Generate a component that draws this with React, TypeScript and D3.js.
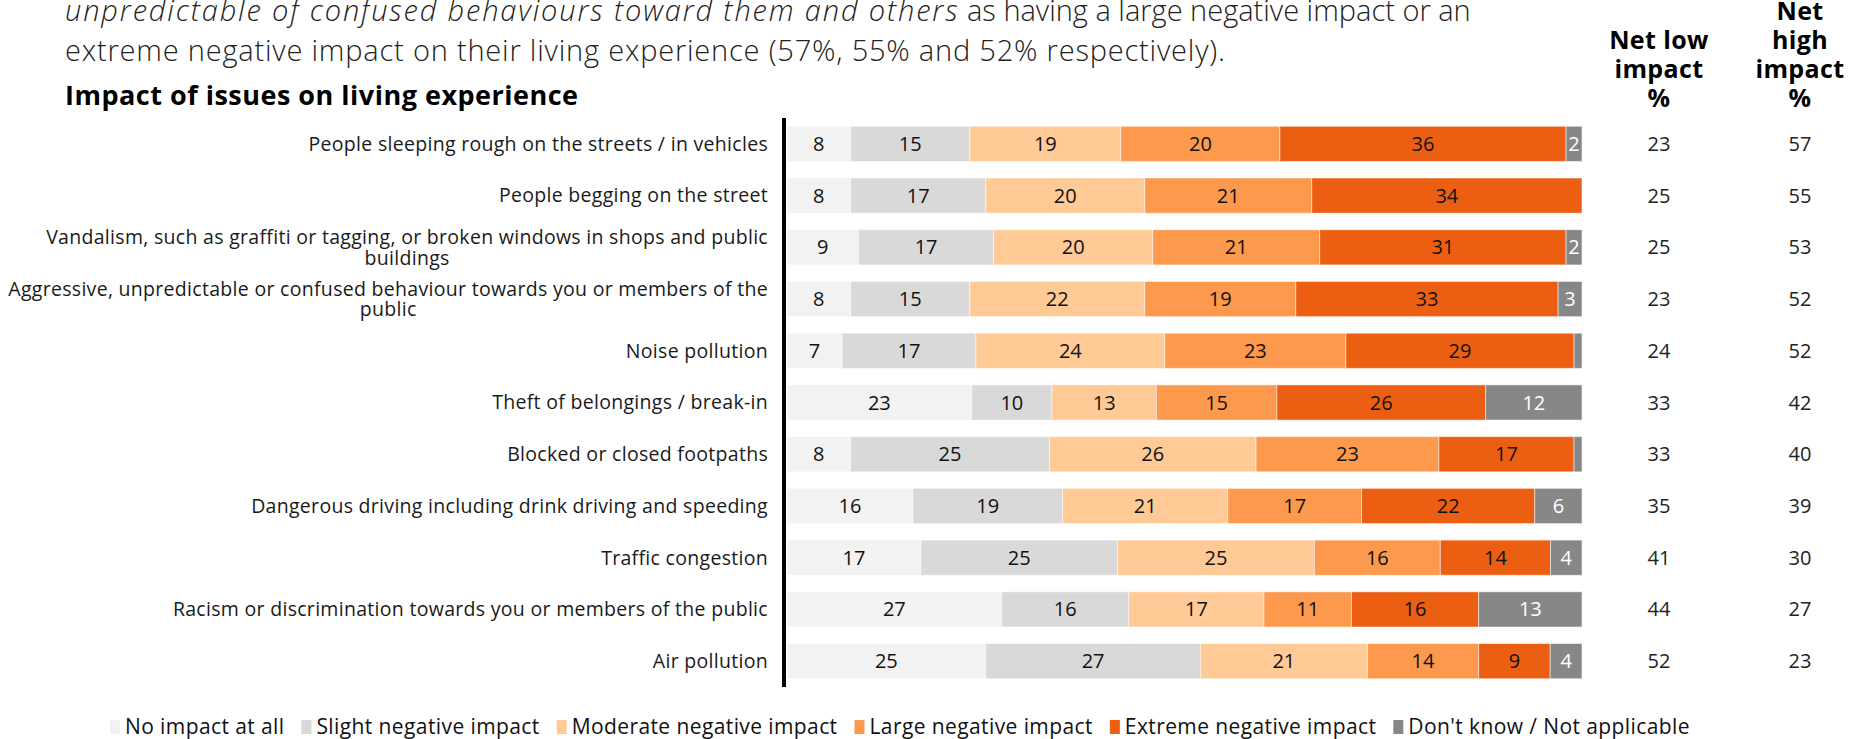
import React, { useEffect, useRef } from "react";
import * as d3 from "d3";

const categories = [
  "People sleeping rough on the streets / in vehicles",
  "People begging on the street",
  "Vandalism, such as graffiti or tagging, or broken windows in shops and public\nbuildings",
  "Aggressive, unpredictable or confused behaviour towards you or members of the\npublic",
  "Noise pollution",
  "Theft of belongings / break-in",
  "Blocked or closed footpaths",
  "Dangerous driving including drink driving and speeding",
  "Traffic congestion",
  "Racism or discrimination towards you or members of the public",
  "Air pollution",
];

const noImpact = [8, 8, 9, 8, 7, 23, 8, 16, 17, 27, 25];
const slightImpact = [15, 17, 17, 15, 17, 10, 25, 19, 25, 16, 27];
const moderateImpact = [19, 20, 20, 22, 24, 13, 26, 21, 25, 17, 21];
const largeImpact = [20, 21, 21, 19, 23, 15, 23, 17, 16, 11, 14];
const extremeImpact = [36, 34, 31, 33, 29, 26, 17, 22, 14, 16, 9];
const dontKnow = [2, 0, 2, 3, 1, 12, 1, 6, 4, 13, 4];

const netLow = [23, 25, 25, 23, 24, 33, 33, 35, 41, 44, 52];
const netHigh = [57, 55, 53, 52, 52, 42, 40, 39, 30, 27, 23];

const seriesNames = [
  "No impact at all",
  "Slight negative impact",
  "Moderate negative impact",
  "Large negative impact",
  "Extreme negative impact",
  "Don't know / Not applicable",
];
const seriesColors = ["#F2F2F2", "#D9D9D9", "#FFCA96", "#FD994D", "#EC5F12", "#878787"];
const labelColors = ["#111", "#111", "#111", "#111", "#111", "#fff"];

const subtitleItalic = "unpredictable of confused behaviours toward them and others";
const subtitleRest1 = " as having a large negative impact or an";
const subtitleLine2 = "extreme negative impact on their living experience (57%, 55% and 52% respectively).";
const chartTitle = "Impact of issues on living experience";
const netLowHeader = ["Net low", "impact", "%"];
const netHighHeader = ["Net", "high", "impact", "%"];

const W = 1858;
const H = 739;
const FONT = "'Open Sans', 'Noto Sans', sans-serif";

export default function App() {
  const ref = useRef<SVGSVGElement | null>(null);

  useEffect(() => {
    document.body.style.margin = "0";
    const svg = d3.select(ref.current);
    svg.selectAll("*").remove();

    const seriesArrays = [noImpact, slightImpact, moderateImpact, largeImpact, extremeImpact, dontKnow];
    const rows = categories.map((c, i) => {
      const r: any = { category: c };
      seriesNames.forEach((s, k) => (r[s] = seriesArrays[k][i]));
      return r;
    });

    const stack = d3.stack<any>().keys(seriesNames).offset(d3.stackOffsetExpand);
    const stacked = stack(rows);

    const x = d3.scaleLinear().domain([0, 1]).range([787, 1582]);
    const y = d3
      .scaleBand<string>()
      .domain(categories)
      .range([118, 687])
      .paddingInner(0.32)
      .paddingOuter(0.16);

    // subtitle
    const sub1 = svg
      .append("text")
      .attr("x", 65)
      .attr("y", 21)
      .attr("font-family", FONT)
      .attr("font-size", 29)
      .attr("font-weight", 300)
      .attr("fill", "#222");
    sub1.append("tspan").attr("font-style", "italic").attr("letter-spacing", 1.85).text(subtitleItalic);
    sub1.append("tspan").attr("letter-spacing", 0.0).text(subtitleRest1);
    svg
      .append("text")
      .attr("x", 65)
      .attr("y", 61)
      .attr("font-family", FONT)
      .attr("font-size", 29)
      .attr("font-weight", 300)
      .attr("letter-spacing", 0.8)
      .attr("fill", "#222")
      .text(subtitleLine2);

    // title
    svg
      .append("text")
      .attr("x", 65)
      .attr("y", 105)
      .attr("font-family", FONT)
      .attr("font-size", 27)
      .attr("font-weight", 700)
      .attr("letter-spacing", 0.5)
      .attr("fill", "#000")
      .text(chartTitle);

    // headers
    const hdr = (lines: string[], cx: number) => {
      const startY = 107 - (lines.length - 1) * 29;
      lines.forEach((l, i) => {
        svg
          .append("text")
          .attr("x", cx)
          .attr("y", startY + i * 29)
          .attr("text-anchor", "middle")
          .attr("font-family", FONT)
          .attr("font-size", 25)
          .attr("font-weight", 700)
          .attr("letter-spacing", 0.4)
          .attr("fill", "#000")
          .text(l);
      });
    };
    hdr(netLowHeader, 1659);
    hdr(netHighHeader, 1800);

    // bars
    const g = svg.append("g");
    stacked.forEach((layer, k) => {
      layer.forEach((d: any, i) => {
        const cat = categories[i];
        const x0 = x(d[0]);
        const x1 = x(d[1]);
        if (x1 - x0 <= 0) return;
        g.append("rect")
          .attr("x", x0)
          .attr("y", y(cat)!)
          .attr("width", x1 - x0)
          .attr("height", y.bandwidth())
          .attr("fill", seriesColors[k])
          .attr("stroke", "#fff")
          .attr("stroke-opacity", 0.5)
          .attr("stroke-width", 1);
      });
    });
    stacked.forEach((layer, k) => {
      layer.forEach((d: any, i) => {
        const v = seriesArrays[k][i];
        if (v < 2) return;
        const cat = categories[i];
        g.append("text")
          .attr("x", (x(d[0]) + x(d[1])) / 2)
          .attr("y", y(cat)! + y.bandwidth() / 2)
          .attr("dy", "0.35em")
          .attr("text-anchor", "middle")
          .attr("font-family", FONT)
          .attr("font-size", 20)
          .attr("fill", labelColors[k])
          .text(v);
      });
    });

    // axis line
    svg
      .append("line")
      .attr("x1", 784)
      .attr("x2", 784)
      .attr("y1", y.range()[0])
      .attr("y2", y.range()[1])
      .attr("stroke", "#000")
      .attr("stroke-width", 4);

    // category labels
    categories.forEach((c) => {
      const lines = c.split("\n");
      const cy = y(c)! + y.bandwidth() / 2;
      const texts = lines.map((l) =>
        svg
          .append("text")
          .attr("font-family", FONT)
          .attr("font-size", 19.5)
          .attr("font-weight", 400)
          .attr("letter-spacing", 0.3)
          .attr("fill", "#1a1a1a")
          .attr("dy", "0.35em")
          .text(l)
      );
      if (lines.length === 1) {
        texts[0].attr("x", 768).attr("y", cy).attr("text-anchor", "end");
      } else {
        const widths = texts.map((t) => (t.node() as SVGTextElement).getComputedTextLength());
        const maxW = Math.max(...widths);
        texts.forEach((t, i) => {
          t.attr("x", 768 - maxW / 2)
            .attr("y", cy - 10 + i * 20.5)
            .attr("text-anchor", "middle");
        });
      }
    });

    // net columns
    categories.forEach((c, i) => {
      const cy = y(c)! + y.bandwidth() / 2;
      [
        [netLow[i], 1659],
        [netHigh[i], 1800],
      ].forEach(([v, cx]) => {
        svg
          .append("text")
          .attr("x", cx)
          .attr("y", cy)
          .attr("dy", "0.35em")
          .attr("text-anchor", "middle")
          .attr("font-family", FONT)
          .attr("font-size", 20)
          .attr("fill", "#222")
          .text(v);
      });
    });

    // legend
    let lx = 110;
    seriesNames.forEach((s, k) => {
      svg
        .append("rect")
        .attr("x", lx)
        .attr("y", 720)
        .attr("width", 10)
        .attr("height", 14)
        .attr("fill", seriesColors[k]);
      const t = svg
        .append("text")
        .attr("x", lx + 15)
        .attr("y", 734)
        .attr("font-family", FONT)
        .attr("font-size", 21)
        .attr("letter-spacing", 0.4)
        .attr("fill", "#111")
        .text(s);
      const w = (t.node() as SVGTextElement).getComputedTextLength();
      lx = lx + 15 + w + 17;
    });
  }, []);

  return (
    <svg
      ref={ref}
      width={W}
      height={H}
      viewBox={`0 0 ${W} ${H}`}
      style={{ display: "block", background: "#fff" }}
    />
  );
}
